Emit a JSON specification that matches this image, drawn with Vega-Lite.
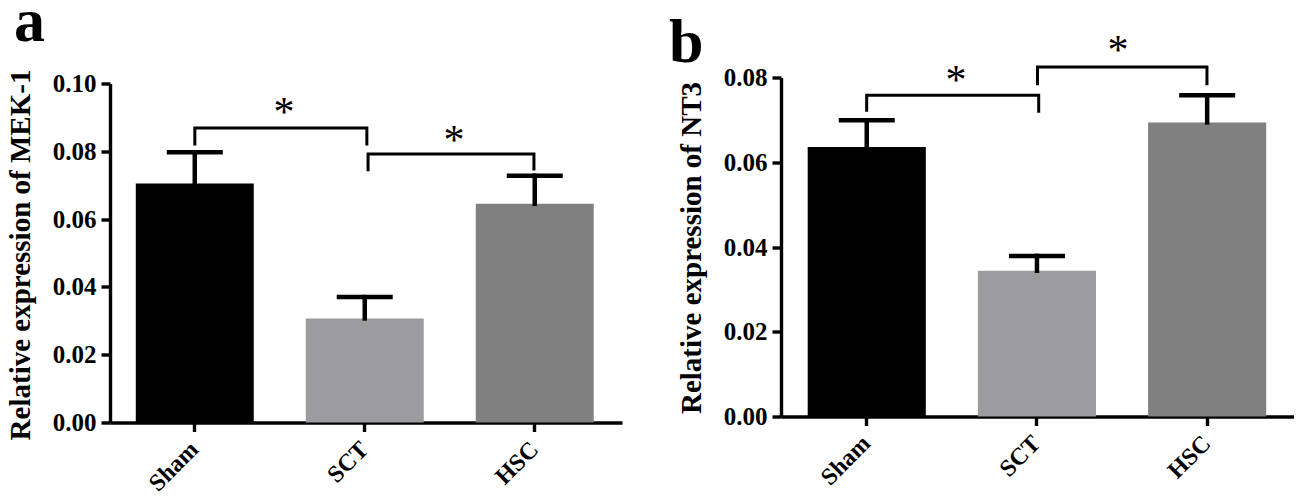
{
  "$schema": "https://vega.github.io/schema/vega-lite/v6.json",
  "description": "Relative expression of MEK-1 and NT3 by group",
  "padding": {"left": 5, "top": -9.5, "right": 0, "bottom": 0},
  "spacing": 46,
  "config": {
    "view": {"stroke": null},
    "font": "Liberation Serif",
    "axis": {
      "grid": false,
      "domainColor": "#000",
      "domainWidth": 3.4,
      "tickColor": "#000",
      "tickWidth": 3.4,
      "labelColor": "#000",
      "titleColor": "#000",
      "labelFont": "Liberation Serif",
      "titleFont": "Liberation Serif",
      "labelFontWeight": "bold",
      "titleFontWeight": "bold"
    }
  },
  "datasets": {
    "mek1": [
      {"group": "Sham", "value": 0.0705, "err": 0.0797},
      {"group": "SCT", "value": 0.0307, "err": 0.037},
      {"group": "HSC", "value": 0.0645, "err": 0.0728}
    ],
    "nt3": [
      {"group": "Sham", "value": 0.0636, "err": 0.0699},
      {"group": "SCT", "value": 0.0344, "err": 0.0379},
      {"group": "HSC", "value": 0.0694, "err": 0.0758}
    ],
    "mek1_brackets": [
      {"bracket": 1, "pt": 1, "x": 0.497, "y": 0.0817},
      {"bracket": 1, "pt": 2, "x": 0.497, "y": 0.0869},
      {"bracket": 1, "pt": 3, "x": 1.505, "y": 0.0869},
      {"bracket": 1, "pt": 4, "x": 1.505, "y": 0.0817},
      {"bracket": 2, "pt": 1, "x": 1.512, "y": 0.0741},
      {"bracket": 2, "pt": 2, "x": 1.512, "y": 0.0792},
      {"bracket": 2, "pt": 3, "x": 2.484, "y": 0.0792},
      {"bracket": 2, "pt": 4, "x": 2.484, "y": 0.0743}
    ],
    "nt3_brackets": [
      {"bracket": 1, "pt": 1, "x": 0.501, "y": 0.0719},
      {"bracket": 1, "pt": 2, "x": 0.501, "y": 0.0758},
      {"bracket": 1, "pt": 3, "x": 1.507, "y": 0.0758},
      {"bracket": 1, "pt": 4, "x": 1.507, "y": 0.0717},
      {"bracket": 2, "pt": 1, "x": 1.5, "y": 0.0782},
      {"bracket": 2, "pt": 2, "x": 1.5, "y": 0.0825},
      {"bracket": 2, "pt": 3, "x": 2.491, "y": 0.0825},
      {"bracket": 2, "pt": 4, "x": 2.491, "y": 0.0782}
    ],
    "mek1_stars": [
      {"x": 1.02, "y": 0.0876, "label": "*"},
      {"x": 2.016, "y": 0.0793, "label": "*"}
    ],
    "nt3_stars": [
      {"x": 1.023, "y": 0.0761, "label": "*"},
      {"x": 1.971, "y": 0.0832, "label": "*"}
    ],
    "mek1_letter": [{"x": -0.5625, "y": 0.1126, "label": "a"}],
    "nt3_letter": [{"x": -0.655, "y": 0.0836, "label": "b"}]
  },
  "hconcat": [
    {
      "width": 512,
      "height": 345,
      "resolve": {"scale": {"x": "independent"}},
      "layer": [
        {
          "data": {"name": "mek1"},
          "encoding": {
            "x": {
              "field": "group",
              "type": "nominal",
              "sort": null,
              "scale": {"paddingInner": 0.306, "paddingOuter": 0.159, "align": 0.477},
              "axis": {"title": null, "labelAngle": -45, "labelAlign": "right", "labelBaseline": "middle", "labelFontSize": 24, "labelPadding": 14, "tickSize": 9}
            }
          },
          "layer": [
            {
              "mark": {"type": "bar"},
              "encoding": {
                "y": {
                  "field": "value",
                  "type": "quantitative",
                  "scale": {"domain": [0, 0.1], "range": [345, 6]},
                  "axis": {
                    "title": "Relative expression of MEK-1",
                    "values": [0, 0.02, 0.04, 0.06, 0.08, 0.1],
                    "format": ".2f",
                    "labelFontSize": 25,
                    "labelPadding": 5,
                    "tickSize": 9,
                    "titleFontSize": 29,
                    "titleAngle": -90,
                    "titleAlign": "center",
                    "titleBaseline": "alphabetic",
                    "titleX": -81,
                    "titleY": 177
                  }
                },
                "color": {
                  "field": "group",
                  "type": "nominal",
                  "legend": null,
                  "scale": {"domain": ["Sham", "SCT", "HSC"], "range": ["#000000", "#9c9ca0", "#808080"]}
                }
              }
            },
            {
              "mark": {"type": "rule", "color": "#000", "strokeWidth": 4.5, "strokeCap": "square"},
              "encoding": {
                "y": {"field": "value", "type": "quantitative"},
                "y2": {"field": "err"}
              }
            },
            {
              "mark": {"type": "tick", "color": "#000", "size": 56, "thickness": 4.5, "opacity": 1},
              "encoding": {"y": {"field": "err", "type": "quantitative"}}
            }
          ]
        },
        {
          "encoding": {
            "x": {"field": "x", "type": "quantitative", "scale": {"domain": [0, 3]}, "axis": null},
            "y": {"field": "y", "type": "quantitative"}
          },
          "layer": [
            {
              "data": {"name": "mek1_brackets"},
              "mark": {"type": "line", "color": "#000", "strokeWidth": 3, "strokeJoin": "miter"},
              "encoding": {"detail": {"field": "bracket"}, "order": {"field": "pt"}}
            },
            {
              "data": {"name": "mek1_stars"},
              "mark": {"type": "text", "font": "Liberation Serif", "fontSize": 42, "color": "#000", "align": "center", "baseline": "alphabetic"},
              "encoding": {"text": {"field": "label"}}
            },
            {
              "data": {"name": "mek1_letter"},
              "mark": {"type": "text", "font": "Liberation Serif", "fontWeight": "bold", "fontSize": 62, "color": "#000", "align": "left", "baseline": "alphabetic"},
              "encoding": {"text": {"field": "label"}}
            }
          ]
        }
      ]
    },
    {
      "width": 513,
      "height": 339,
      "resolve": {"scale": {"x": "independent"}},
      "layer": [
        {
          "data": {"name": "nt3"},
          "encoding": {
            "x": {
              "field": "group",
              "type": "nominal",
              "sort": null,
              "scale": {"paddingInner": 0.306, "paddingOuter": 0.16, "align": 0.49},
              "axis": {"title": null, "labelAngle": -45, "labelAlign": "right", "labelBaseline": "middle", "labelFontSize": 24, "labelPadding": 14, "tickSize": 9}
            }
          },
          "layer": [
            {
              "mark": {"type": "bar"},
              "encoding": {
                "y": {
                  "field": "value",
                  "type": "quantitative",
                  "scale": {"domain": [0, 0.08]},
                  "axis": {
                    "title": "Relative expression of NT3",
                    "values": [0, 0.02, 0.04, 0.06, 0.08],
                    "format": ".2f",
                    "labelFontSize": 25,
                    "labelPadding": 5,
                    "tickSize": 9,
                    "titleFontSize": 29,
                    "titleAngle": -90,
                    "titleAlign": "center",
                    "titleBaseline": "alphabetic",
                    "titleX": -81,
                    "titleY": 170
                  }
                },
                "color": {
                  "field": "group",
                  "type": "nominal",
                  "legend": null,
                  "scale": {"domain": ["Sham", "SCT", "HSC"], "range": ["#000000", "#9c9ca0", "#808080"]}
                }
              }
            },
            {
              "mark": {"type": "rule", "color": "#000", "strokeWidth": 4.5, "strokeCap": "square"},
              "encoding": {
                "y": {"field": "value", "type": "quantitative"},
                "y2": {"field": "err"}
              }
            },
            {
              "mark": {"type": "tick", "color": "#000", "size": 56, "thickness": 4.5, "opacity": 1},
              "encoding": {"y": {"field": "err", "type": "quantitative"}}
            }
          ]
        },
        {
          "encoding": {
            "x": {"field": "x", "type": "quantitative", "scale": {"domain": [0, 3]}, "axis": null},
            "y": {"field": "y", "type": "quantitative"}
          },
          "layer": [
            {
              "data": {"name": "nt3_brackets"},
              "mark": {"type": "line", "color": "#000", "strokeWidth": 3, "strokeJoin": "miter"},
              "encoding": {"detail": {"field": "bracket"}, "order": {"field": "pt"}}
            },
            {
              "data": {"name": "nt3_stars"},
              "mark": {"type": "text", "font": "Liberation Serif", "fontSize": 42, "color": "#000", "align": "center", "baseline": "alphabetic"},
              "encoding": {"text": {"field": "label"}}
            },
            {
              "data": {"name": "nt3_letter"},
              "mark": {"type": "text", "font": "Liberation Serif", "fontWeight": "bold", "fontSize": 62, "color": "#000", "align": "left", "baseline": "alphabetic"},
              "encoding": {"text": {"field": "label"}}
            }
          ]
        }
      ]
    }
  ]
}
